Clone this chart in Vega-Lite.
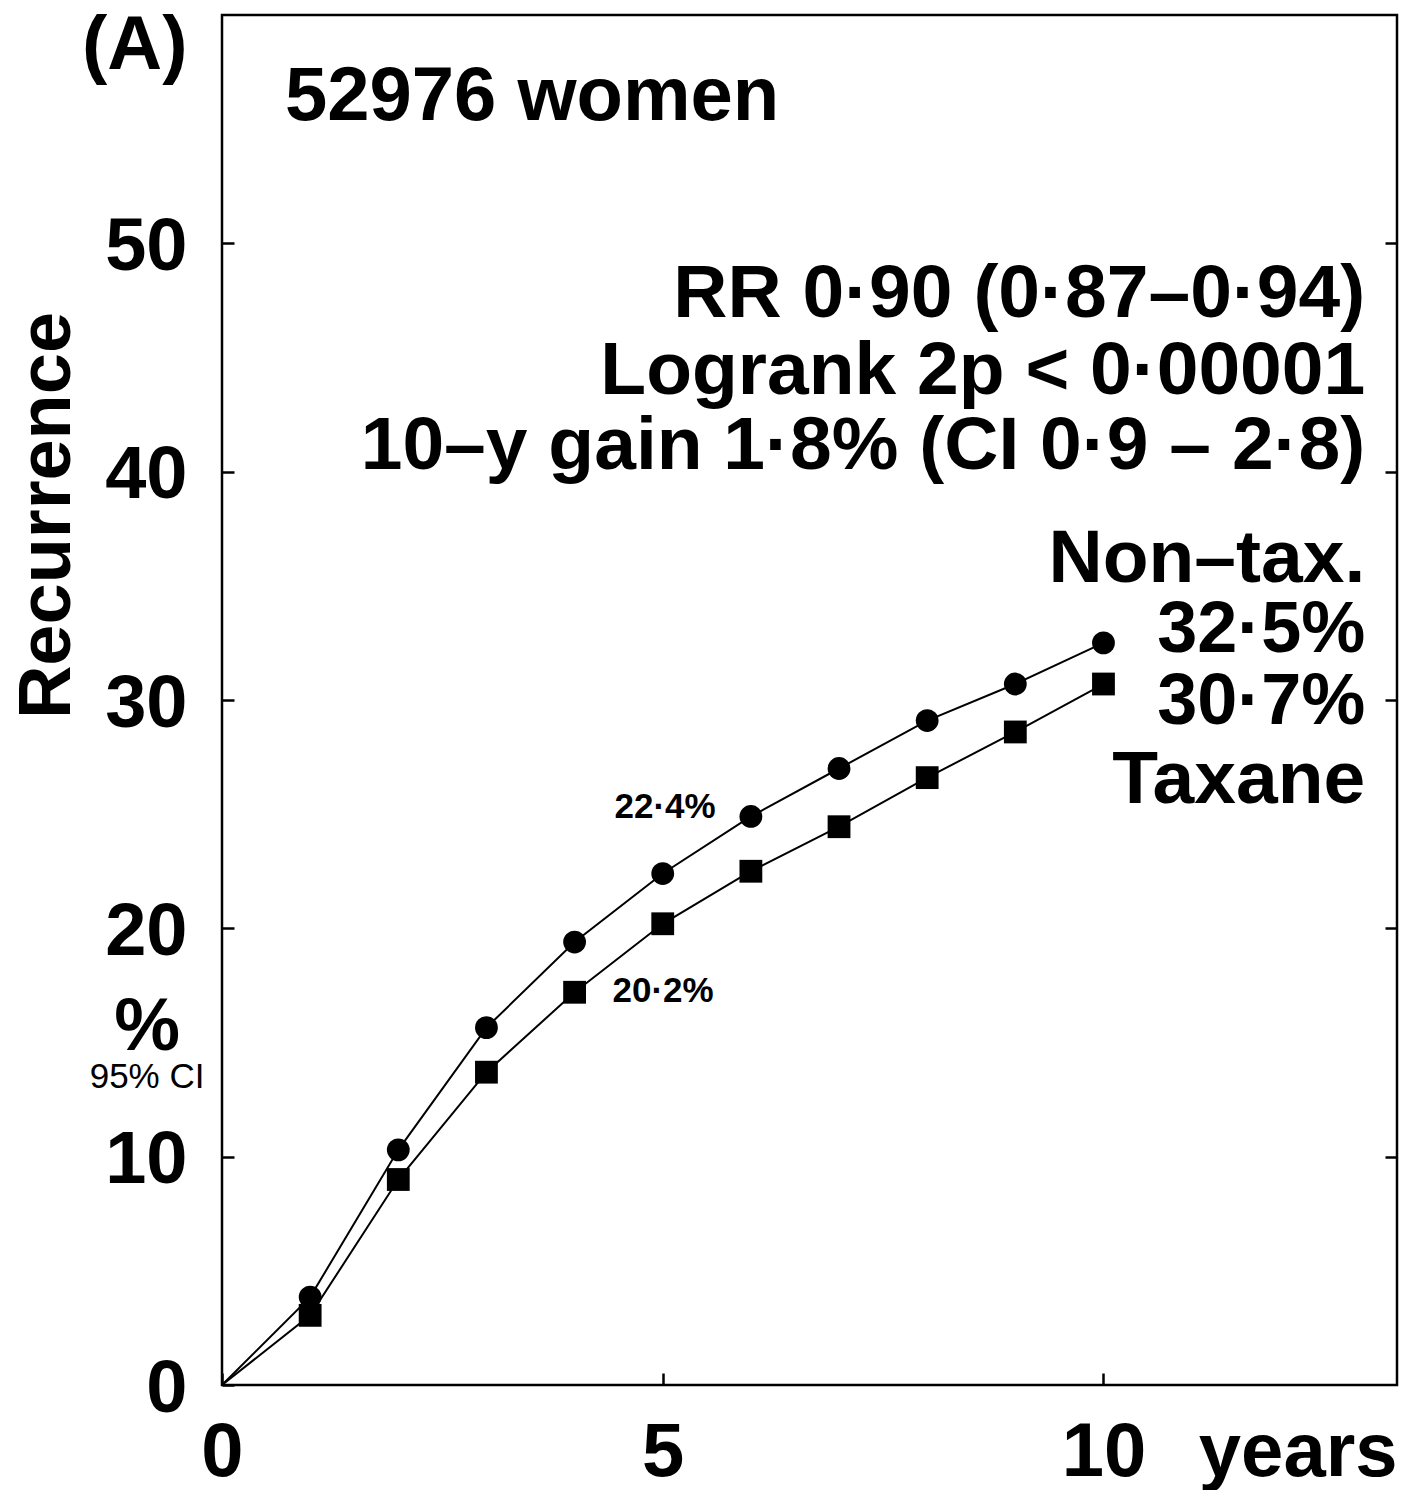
{
  "$schema": "https://vega.github.io/schema/vega-lite/v6.json",
  "width": 1175,
  "height": 1370,
  "autosize": {"type": "none"},
  "padding": {"left": 222, "top": 15, "right": 7, "bottom": 105},
  "background": "white",
  "config": {
    "font": "Liberation Sans",
    "view": {"stroke": "black", "strokeWidth": 2.5},
    "axis": {"grid": false, "domain": false, "tickColor": "black", "tickWidth": 2.5, "labelColor": "black", "titleColor": "black", "labelFont": "Liberation Sans", "titleFont": "Liberation Sans"}
  },
  "datasets": {
    "curves": [
      {"arm": "Non-taxane", "year": 0, "pct": 0},
      {"arm": "Non-taxane", "year": 1, "pct": 3.85},
      {"arm": "Non-taxane", "year": 2, "pct": 10.3},
      {"arm": "Non-taxane", "year": 3, "pct": 15.65},
      {"arm": "Non-taxane", "year": 4, "pct": 19.4},
      {"arm": "Non-taxane", "year": 5, "pct": 22.4},
      {"arm": "Non-taxane", "year": 6, "pct": 24.9},
      {"arm": "Non-taxane", "year": 7, "pct": 27.0},
      {"arm": "Non-taxane", "year": 8, "pct": 29.1},
      {"arm": "Non-taxane", "year": 9, "pct": 30.7},
      {"arm": "Non-taxane", "year": 10, "pct": 32.5},
      {"arm": "Taxane", "year": 0, "pct": 0},
      {"arm": "Taxane", "year": 1, "pct": 3.05},
      {"arm": "Taxane", "year": 2, "pct": 9.0},
      {"arm": "Taxane", "year": 3, "pct": 13.7},
      {"arm": "Taxane", "year": 4, "pct": 17.2},
      {"arm": "Taxane", "year": 5, "pct": 20.2},
      {"arm": "Taxane", "year": 6, "pct": 22.5},
      {"arm": "Taxane", "year": 7, "pct": 24.45},
      {"arm": "Taxane", "year": 8, "pct": 26.6},
      {"arm": "Taxane", "year": 9, "pct": 28.6},
      {"arm": "Taxane", "year": 10, "pct": 30.7}
    ],
    "notes": [
      {"kind": "bigleft", "label": "52976 women", "x": 0.715, "y": 55.4},
      {"kind": "bigright", "label": "RR 0·90 (0·87–0·94)", "x": 12.97, "y": 46.76},
      {"kind": "bigright", "label": "Logrank 2p < 0·00001", "x": 12.97, "y": 43.38},
      {"kind": "bigright", "label": "10–y gain 1·8% (CI 0·9 – 2·8)", "x": 12.97, "y": 40.1},
      {"kind": "bigright", "label": "Non–tax.", "x": 12.97, "y": 35.15},
      {"kind": "pctright", "label": "32·5%", "x": 12.97, "y": 32.12},
      {"kind": "pctright", "label": "30·7%", "x": 12.97, "y": 28.97},
      {"kind": "bigright", "label": "Taxane", "x": 12.97, "y": 25.5},
      {"kind": "panel", "label": "(A)", "x": -0.99, "y": 57.63},
      {"kind": "unit", "label": "%", "x": -0.85, "y": 14.68},
      {"kind": "ci", "label": "95% CI", "x": -0.85, "y": 13.0},
      {"kind": "smallright", "label": "22·4%", "x": 5.6, "y": 24.85},
      {"kind": "smallleft", "label": "20·2%", "x": 4.43, "y": 16.78}
    ]
  },
  "layer": [
    {
      "data": {"name": "curves"},
      "mark": {"type": "line", "color": "black", "strokeWidth": 2},
      "encoding": {
        "x": {
          "field": "year", "type": "quantitative",
          "scale": {"domain": [0, 13.33], "nice": false, "zero": false},
          "axis": {
            "orient": "bottom", "values": [0, 5, 10], "format": "d", "tickSize": -12, "labelPadding": 102,
            "labelBaseline": "alphabetic", "labelFontSize": 76, "labelFontWeight": "bold", "labelFlush": false,
            "title": "years", "titleFontSize": 76, "titleFontWeight": "bold", "titleX": 1175, "titleY": 90,
            "titleAlign": "right", "titleBaseline": "alphabetic", "titleAngle": 0
          }
        },
        "y": {
          "field": "pct", "type": "quantitative",
          "scale": {"domain": [0, 60], "nice": false},
          "axis": {
            "orient": "left", "values": [0, 10, 20, 30, 40, 50], "format": "d", "tickSize": -12, "labelPadding": 47,
            "labelFontSize": 74, "labelFontWeight": "bold", "labelAlign": "right", "labelBaseline": "middle",
            "labelOffset": 4, "labelFlush": false,
            "title": "Recurrence", "titleFontSize": 74, "titleFontWeight": "bold", "titleX": -175, "titleY": 500,
            "titleAngle": 270, "titleAlign": "center", "titleBaseline": "middle"
          }
        },
        "detail": {"field": "arm", "type": "nominal"}
      }
    },
    {
      "data": {"name": "curves"},
      "transform": [{"filter": "datum.year > 0"}],
      "mark": {"type": "point", "filled": true, "opacity": 1, "color": "black", "size": 520},
      "encoding": {
        "x": {"field": "year", "type": "quantitative"},
        "y": {
          "field": "pct", "type": "quantitative",
          "axis": {"orient": "right", "values": [10, 20, 30, 40, 50], "tickSize": -12, "labels": false, "title": null}
        },
        "shape": {
          "field": "arm", "type": "nominal",
          "scale": {"domain": ["Non-taxane", "Taxane"], "range": ["circle", "square"]},
          "legend": null
        }
      }
    },
    {
      "data": {"name": "notes"},
      "transform": [{"filter": "datum.kind == 'bigleft'"}],
      "mark": {"type": "text", "align": "left", "baseline": "alphabetic", "fontSize": 76, "fontWeight": "bold", "color": "black"},
      "encoding": {
        "x": {"field": "x", "type": "quantitative"},
        "y": {"field": "y", "type": "quantitative", "axis": null},
        "text": {"field": "label"}
      }
    },
    {
      "data": {"name": "notes"},
      "transform": [{"filter": "datum.kind == 'bigright'"}],
      "mark": {"type": "text", "align": "right", "baseline": "alphabetic", "fontSize": 75, "fontWeight": "bold", "color": "black"},
      "encoding": {
        "x": {"field": "x", "type": "quantitative"},
        "y": {"field": "y", "type": "quantitative", "axis": null},
        "text": {"field": "label"}
      }
    },
    {
      "data": {"name": "notes"},
      "transform": [{"filter": "datum.kind == 'pctright'"}],
      "mark": {"type": "text", "align": "right", "baseline": "alphabetic", "fontSize": 72, "fontWeight": "bold", "color": "black"},
      "encoding": {
        "x": {"field": "x", "type": "quantitative"},
        "y": {"field": "y", "type": "quantitative", "axis": null},
        "text": {"field": "label"}
      }
    },
    {
      "data": {"name": "notes"},
      "transform": [{"filter": "datum.kind == 'panel'"}],
      "mark": {"type": "text", "align": "center", "baseline": "alphabetic", "fontSize": 76, "fontWeight": "bold", "color": "black"},
      "encoding": {
        "x": {"field": "x", "type": "quantitative"},
        "y": {"field": "y", "type": "quantitative", "axis": null},
        "text": {"field": "label"}
      }
    },
    {
      "data": {"name": "notes"},
      "transform": [{"filter": "datum.kind == 'unit'"}],
      "mark": {"type": "text", "align": "center", "baseline": "alphabetic", "fontSize": 74, "fontWeight": "bold", "color": "black"},
      "encoding": {
        "x": {"field": "x", "type": "quantitative"},
        "y": {"field": "y", "type": "quantitative", "axis": null},
        "text": {"field": "label"}
      }
    },
    {
      "data": {"name": "notes"},
      "transform": [{"filter": "datum.kind == 'ci'"}],
      "mark": {"type": "text", "align": "center", "baseline": "alphabetic", "fontSize": 35, "fontWeight": "normal", "color": "black"},
      "encoding": {
        "x": {"field": "x", "type": "quantitative"},
        "y": {"field": "y", "type": "quantitative", "axis": null},
        "text": {"field": "label"}
      }
    },
    {
      "data": {"name": "notes"},
      "transform": [{"filter": "datum.kind == 'smallright'"}],
      "mark": {"type": "text", "align": "right", "baseline": "alphabetic", "fontSize": 35, "fontWeight": "bold", "color": "black"},
      "encoding": {
        "x": {"field": "x", "type": "quantitative"},
        "y": {"field": "y", "type": "quantitative", "axis": null},
        "text": {"field": "label"}
      }
    },
    {
      "data": {"name": "notes"},
      "transform": [{"filter": "datum.kind == 'smallleft'"}],
      "mark": {"type": "text", "align": "left", "baseline": "alphabetic", "fontSize": 35, "fontWeight": "bold", "color": "black"},
      "encoding": {
        "x": {"field": "x", "type": "quantitative"},
        "y": {"field": "y", "type": "quantitative", "axis": null},
        "text": {"field": "label"}
      }
    }
  ],
  "resolve": {"axis": {"y": "independent"}}
}
